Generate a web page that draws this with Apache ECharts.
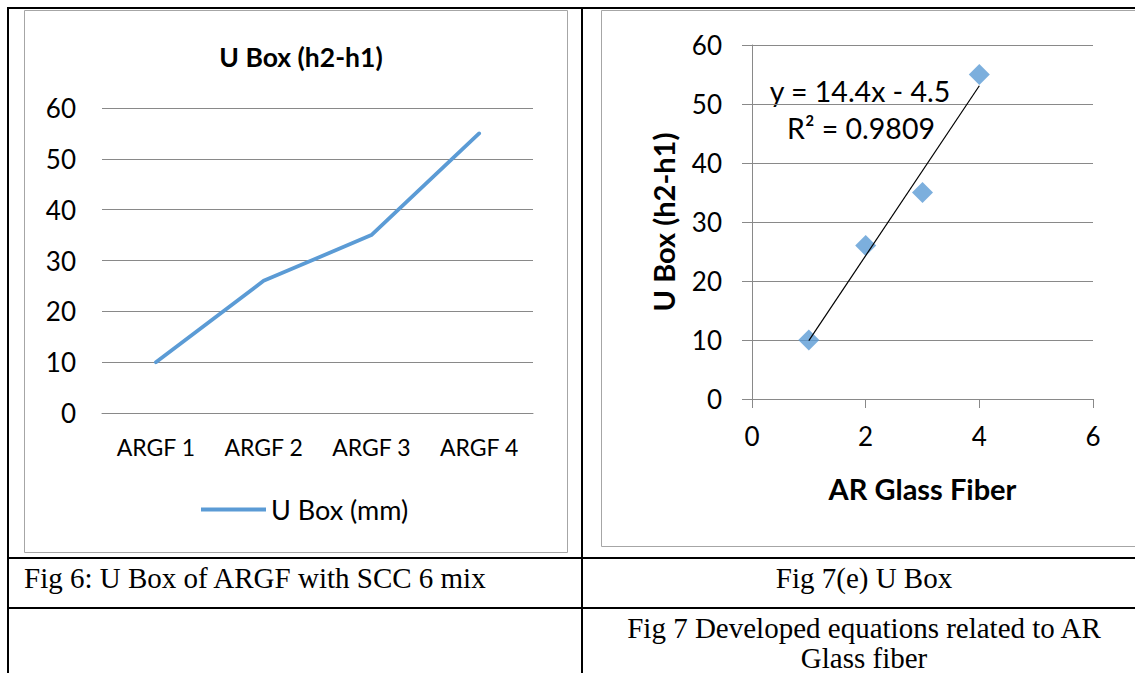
<!DOCTYPE html>
<html>
<head>
<meta charset="utf-8">
<script src="https://cdn.jsdelivr.net/npm/echarts@6/dist/echarts.min.js"></script>
<style>
html,body{margin:0;padding:0;background:#fff;}
#c{width:1135px;height:673px;}
</style>
</head>
<body>
<div id="c"></div>
<script>
// ---- data ----
var categories = ['ARGF 1', 'ARGF 2', 'ARGF 3', 'ARGF 4'];
var uBoxValues = [10, 26, 35, 55];
var fiberX = [1, 2, 3, 4];
var fiberY = [10, 26, 35, 55];
var trendX = [1, 4];
var trendY = [9.9, 53.1];
var yTicks = [0, 10, 20, 30, 40, 50, 60];
var xTicksRight = [0, 2, 4, 6];
var leftTitle = 'U Box (h2-h1)';
var legendName = 'U Box (mm)';
var rightYName = 'U Box (h2-h1)';
var rightXName = 'AR Glass Fiber';
var equationText = 'y = 14.4x - 4.5';
var r2Text = 'R² = 0.9809';
var captionLeft = 'Fig 6: U Box of ARGF with SCC 6 mix';
var captionRight = 'Fig 7(e) U Box';
var captionBottom1 = 'Fig 7 Developed equations related to AR';
var captionBottom2 = 'Glass fiber';

var FONT = 'Lato';
var SERIF = '"Liberation Serif", "Times New Roman", serif';
var BLUE = '#5B9BD5';
var GRID = '#898989';

var chart = echarts.init(document.getElementById('c'), null, {renderer: 'svg'});

var scatterData = fiberX.map(function (x, i) { return [x, fiberY[i]]; });
var trendData = trendX.map(function (x, i) { return [x, trendY[i]]; });

var option = {
  animation: false,
  backgroundColor: '#fff',
  title: {
    text: leftTitle,
    left: 296, top: 38, textAlign: 'center',
    textStyle: {fontFamily: FONT, fontWeight: 'bold', fontSize: 26.5, color: '#000'}
  },
  legend: {
    data: [legendName],
    left: 196, top: 491,
    icon: 'rect',
    itemWidth: 65, itemHeight: 4, itemGap: 6,
    textStyle: {fontFamily: FONT, fontSize: 27, color: '#000', padding: [0, 0, 0, 0]}
  },
  grid: [
    {left: 102, right: 602, top: 108, bottom: 260, containLabel: false},
    {left: 752, right: 42, top: 45, bottom: 274, containLabel: false}
  ],
  xAxis: [
    {
      gridIndex: 0, type: 'category', data: categories, boundaryGap: true,
      axisLine: {show: true, lineStyle: {color: GRID, width: 1}},
      axisTick: {show: false},
      axisLabel: {fontFamily: FONT, fontSize: 23, color: '#000', margin: 22}
    },
    {
      gridIndex: 1, type: 'value', min: 0, max: 6, interval: 2,
      axisLine: {show: true, onZero: false, lineStyle: {color: GRID, width: 1}},
      axisTick: {show: true, inside: false, length: 9, lineStyle: {color: GRID}},
      splitLine: {show: false},
      axisLabel: {fontFamily: FONT, fontSize: 26, color: '#000', margin: 24,
        formatter: function (v) { return xTicksRight.indexOf(v) >= 0 ? String(v) : ''; }},
      name: rightXName, nameLocation: 'middle', nameGap: 75,
      nameTextStyle: {fontFamily: FONT, fontWeight: 'bold', fontSize: 29, color: '#000'}
    }
  ],
  yAxis: [
    {
      gridIndex: 0, type: 'value', min: 0, max: 60, interval: 10,
      axisLine: {show: false}, axisTick: {show: false},
      splitLine: {show: true, lineStyle: {color: GRID, width: 1}},
      axisLabel: {fontFamily: FONT, fontSize: 26, color: '#000', margin: 26,
        formatter: function (v) { return yTicks.indexOf(v) >= 0 ? String(v) : ''; }}
    },
    {
      gridIndex: 1, type: 'value', min: 0, max: 60, interval: 10,
      axisLine: {show: true, onZero: false, lineStyle: {color: GRID, width: 1}},
      axisTick: {show: true, inside: false, length: 10, lineStyle: {color: GRID}},
      splitLine: {show: true, lineStyle: {color: GRID, width: 1}},
      axisLabel: {fontFamily: FONT, fontSize: 26, color: '#000', margin: 30,
        formatter: function (v) { return yTicks.indexOf(v) >= 0 ? String(v) : ''; }},
      name: rightYName, nameLocation: 'middle', nameRotate: 90, nameGap: 74,
      nameTextStyle: {fontFamily: FONT, fontWeight: 'bold', fontSize: 29, color: '#000'}
    }
  ],
  series: [
    {
      name: legendName, type: 'line', xAxisIndex: 0, yAxisIndex: 0,
      data: uBoxValues, showSymbol: false, symbol: 'none',
      lineStyle: {color: BLUE, width: 3.8, cap: 'round', join: 'round'},
      itemStyle: {color: BLUE}
    },
    {
      name: 'trend', type: 'line', xAxisIndex: 1, yAxisIndex: 1,
      data: trendData, symbol: 'none', z: 3,
      lineStyle: {color: '#000', width: 1.2}
    },
    {
      name: 'points', type: 'scatter', xAxisIndex: 1, yAxisIndex: 1,
      data: scatterData, symbol: 'diamond', symbolSize: [21, 21], z: 2,
      itemStyle: {color: BLUE}
    }
  ],
  graphic: [
    // chart frames
    {type: 'rect', shape: {x: 24.5, y: 10.5, width: 543, height: 542}, style: {fill: 'none', stroke: '#a6a6a6', lineWidth: 1}, z: -1},
    {type: 'rect', shape: {x: 601.5, y: 10.5, width: 560, height: 536}, style: {fill: 'none', stroke: '#a6a6a6', lineWidth: 1}, z: -1},
    // table borders
    {type: 'rect', shape: {x: 7, y: 7, width: 1130, height: 2}, style: {fill: '#000'}},
    {type: 'rect', shape: {x: 7, y: 7, width: 2, height: 670}, style: {fill: '#000'}},
    {type: 'rect', shape: {x: 581, y: 7, width: 2, height: 670}, style: {fill: '#000'}},
    {type: 'rect', shape: {x: 7, y: 557, width: 1130, height: 2}, style: {fill: '#000'}},
    {type: 'rect', shape: {x: 7, y: 607, width: 1130, height: 2}, style: {fill: '#000'}},
    // trendline labels
    {type: 'text', x: 860, y: 91, style: {text: equationText, font: '28.5px Lato', fill: '#000', textAlign: 'center', textVerticalAlign: 'middle'}},
    {type: 'text', x: 861, y: 128, style: {text: r2Text, font: '28.5px Lato', fill: '#000', textAlign: 'center', textVerticalAlign: 'middle'}},
    // captions
    {type: 'text', x: 24, y: 578, style: {text: captionLeft, font: '29px ' + SERIF, fill: '#000', textAlign: 'left', textVerticalAlign: 'middle'}},
    {type: 'text', x: 864, y: 578, style: {text: captionRight, font: '29px ' + SERIF, fill: '#000', textAlign: 'center', textVerticalAlign: 'middle'}},
    {type: 'text', x: 864, y: 628, style: {text: captionBottom1, font: '29px ' + SERIF, fill: '#000', textAlign: 'center', textVerticalAlign: 'middle'}},
    {type: 'text', x: 864, y: 658, style: {text: captionBottom2, font: '29px ' + SERIF, fill: '#000', textAlign: 'center', textVerticalAlign: 'middle'}}
  ]
};
chart.setOption(option);
</script>
</body>
</html>
